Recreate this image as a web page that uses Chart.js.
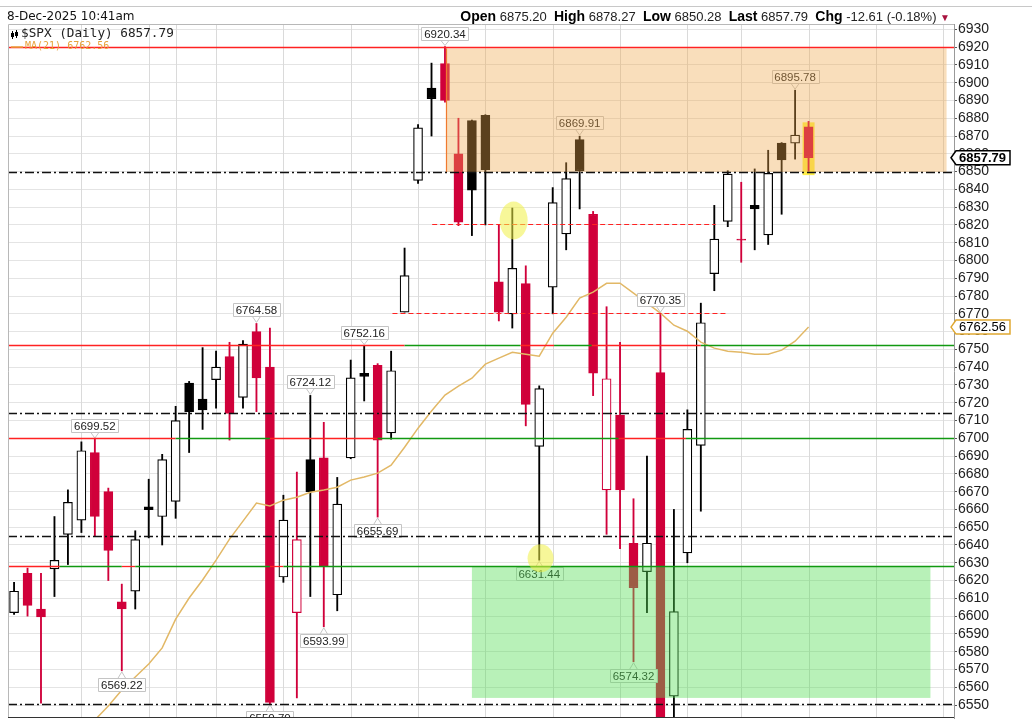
<!DOCTYPE html>
<html>
<head>
<meta charset="utf-8">
<script src="https://cdn.jsdelivr.net/npm/chart.js@4.4.1/dist/chart.umd.min.js"></script>
<style>
html, body { margin: 0; padding: 0; background: #fff; }
#wrap { position: relative; width: 1032px; height: 720px; overflow: hidden; }
#c { position: absolute; left: 0; top: 0; }
.rule { position: absolute; left: 0; top: 6px; width: 1032px; height: 1px; background: #c8c8c8; }
.date { position: absolute; left: 7px; top: 9px; font: 12px "DejaVu Sans", Verdana, sans-serif; color: #111; white-space: nowrap; }
.quote { position: absolute; right: 82px; top: 8px; font: 13px "Liberation Sans", Arial, sans-serif; color: #222; white-space: nowrap; }
.quote b { font-size: 14px; color: #000; }
.quote .tri { color: #a8123e; font-size: 10px; }
.leg1 { position: absolute; left: 21px; top: 25px; font: 12.7px "DejaVu Sans Mono", "Liberation Mono", monospace; color: #222; white-space: nowrap; }
.leg2 { position: absolute; left: 25px; top: 40px; font: 10px "DejaVu Sans Mono", "Liberation Mono", monospace; color: #e8a33c; white-space: nowrap; }
</style>
</head>
<body>
<div id="wrap">
  <canvas id="c" width="1032" height="720"></canvas>
  <div class="rule"></div>
  <div class="date">8-Dec-2025 10:41am</div>
  <div class="quote"><b>Open</b> 6875.20 &nbsp;<b>High</b> 6878.27 &nbsp;<b>Low</b> 6850.28 &nbsp;<b>Last</b> 6857.79 &nbsp;<b>Chg</b> -12.61 (-0.18%) <span class="tri">&#9660;</span></div>
  <div class="leg1">$SPX (Daily) 6857.79</div>
  <div class="leg2">MA(21) 6762.56</div>
</div>
<script>
// daily candles, 15-Sep-2025 .. 8-Dec-2025
const opens  = [6602, 6624, 6604, 6626.5, 6646, 6654, 6692, 6670, 6608, 6614,
                6661.5, 6656, 6664.5, 6731, 6722, 6733, 6746, 6723, 6760, 6740,
                6622, 6602, 6688, 6689, 6612, 6689, 6736.6, 6741, 6703, 6771,
                6845, 6897, 6910.7, 6860, 6878.7, 6881.7, 6788, 6770, 6787, 6695.5,
                6785, 6815, 6868, 6826, 6671, 6713, 6641, 6625, 6737, 6555,
                6635.5, 6696, 6792.6, 6822, 6812, 6831, 6814.4, 6866, 6866, 6875.20];
const highs  = [6619, 6627, 6624, 6656, 6671, 6698, 6699.52, 6672, 6618, 6648,
                6677, 6691, 6718, 6732, 6751, 6749, 6754, 6755, 6764.58, 6762,
                6668, 6681, 6724.12, 6709, 6678, 6744, 6752.16, 6742, 6749, 6807,
                6876.4, 6911, 6920.34, 6880, 6879, 6882, 6820, 6829.5, 6797, 6729.5,
                6841, 6855, 6869.91, 6827.6, 6774, 6754, 6666, 6690, 6770.35, 6660,
                6716, 6776, 6831, 6850.5, 6844, 6851.5, 6862, 6866.3, 6895.78, 6878.27];
const lows   = [6601, 6600, 6551, 6611, 6629, 6647, 6645, 6620, 6569.22, 6604,
                6644, 6640, 6655, 6692, 6705, 6717, 6699, 6717, 6715, 6550.70,
                6619, 6554, 6611, 6593.99, 6603, 6688.5, 6721, 6655.69, 6699.5, 6771,
                6843.4, 6870, 6889, 6819.6, 6814, 6820, 6766, 6762, 6707, 6631.44,
                6770, 6806, 6829, 6724, 6646, 6638, 6574.32, 6602, 6530, 6540,
                6630, 6659, 6783, 6819, 6799, 6806, 6809, 6826, 6857, 6850.28];
const closes = [6614, 6606, 6599.5, 6631.4, 6664, 6693, 6656, 6637, 6604, 6643,
                6659.8, 6688, 6710, 6715, 6716, 6740, 6714, 6753, 6734, 6551.5,
                6654, 6643, 6670, 6628, 6663, 6734, 6734.8, 6699, 6738, 6791.5,
                6874.6, 6891, 6890, 6821.6, 6839.6, 6851, 6771, 6795.6, 6719, 6728,
                6832.5, 6846, 6850.5, 6736.6, 6733.5, 6671, 6616, 6641, 6538, 6602.5,
                6705, 6765, 6812, 6848.6, 6811.4, 6829, 6849, 6856.5, 6870.5, 6857.79];
// up = hollow black, dn = filled red, bf = filled black, rh = hollow red
const kinds  = ['up','dn','dn','up','up','up','dn','dn','dn','up',
                'bf','up','up','bf','bf','up','dn','up','dn','dn',
                'up','rh','bf','dn','up','up','bf','dn','up','up',
                'up','bf','dn','dn','bf','bf','dn','up','dn','up',
                'up','up','bf','dn','rh','dn','dn','up','dn','up',
                'up','up','up','up','dn','bf','up','bf','up','dn'];
const ma21   = [null, null, null, null, null, null, 6541.6, 6549.4, 6558.4, 6565.8,
                6573.1, 6582.1, 6598.3, 6610.2, 6620.3, 6631.5, 6643.3, 6653.4, 6663.6, 6661.9,
                6665.2, 6666.9, 6669.7, 6670.9, 6672.5, 6676.5, 6678.2, 6680.4, 6684.9, 6695.0,
                6705.7, 6715.3, 6724.3, 6729.3, 6733.8, 6741.7, 6745.1, 6748.4, 6747.3, 6746.2,
                6759.1, 6768.1, 6778.8, 6782.2, 6787.2, 6787.2, 6781.6, 6776.0, 6770.4, 6763.6,
                6760.2, 6754.1, 6750.7, 6749.0, 6748.4, 6747.3, 6747.3, 6749.6, 6754.6, 6762.56];
const yTickVals = [6550, 6560, 6570, 6580, 6590, 6600, 6610, 6620, 6630, 6640,
                   6650, 6660, 6670, 6680, 6690, 6700, 6710, 6720, 6730, 6740,
                   6750, 6760, 6770, 6780, 6790, 6800, 6810, 6820, 6830, 6840,
                   6850, 6860, 6870, 6880, 6890, 6900, 6910, 6920, 6930];
// weekly / monthly separators (candle index)
const gridIdx = [5, 10, 12, 15, 20, 25, 30, 35, 40, 45, 50, 54, 59, 64, 69];
// labelled highs and lows: [candle, 'hi' | 'lo']
const callouts = [[32,'hi'], [6,'hi'], [8,'lo'], [18,'hi'], [22,'hi'], [26,'hi'], [27,'lo'],
                  [23,'lo'], [19,'lo'], [42,'hi'], [39,'lo'], [48,'hi'], [46,'lo'], [58,'hi']];

const RED = '#d0003a', LRED = '#ff2222', GRN = '#119911';
const X0 = -0.45, X1 = 69.8;
const fillOf = {up: '#ffffff', dn: RED, bf: '#000000', rh: '#ffffff'};
const edgeOf = {up: '#000000', dn: RED, bf: '#000000', rh: RED};

const levels = [
  {v: 6920, from: X0, to: X1, color: LRED, dash: [], w: 1.3},
  {v: 6849.8, from: X0, to: X1, color: '#111', dash: [9, 3, 2, 3], w: 1.3},
  {v: 6820.5, from: 31.05, to: 52.1, color: LRED, dash: [5, 3], w: 1.2},
  {v: 6770.35, from: 28.1, to: 53, color: LRED, dash: [5, 3], w: 1.2},
  {v: 6714.2, from: X0, to: X1, color: '#111', dash: [9, 3, 2, 3], w: 1.3},
  {v: 6645.2, from: X0, to: X1, color: '#111', dash: [9, 3, 2, 3], w: 1.3},
  {v: 6550.4, from: X0, to: X1, color: '#111', dash: [9, 3, 2, 3], w: 1.3}
];
const polarLines = [
  {v: 6752.6, segs: [[X0, 29, LRED], [29, 37.6, GRN], [37.6, 40.1, LRED], [40.1, 42.9, GRN], [42.9, 51, LRED], [51, X1, GRN]]},
  {v: 6700, segs: [[X0, 12, LRED], [12, 19, GRN], [19, 27, LRED], [27, 44.9, GRN], [44.9, 49.9, LRED], [49.9, X1, GRN]]},
  {v: 6628, segs: [[X0, 3.4, LRED], [3.4, 8, GRN], [8, 9, LRED], [9, 19, GRN], [19, 20, LRED], [20, X1, GRN]]}
];

function callout(ctx, x, y, text, above) {
  ctx.font = '11.5px "Liberation Sans", Arial, sans-serif';
  const w = Math.round(ctx.measureText(text).width + 5), h = 13, gap = 7;
  const bx = Math.round(x - w / 2) + 0.5;
  const by = above ? Math.round(y - gap - h) + 0.5 : Math.round(y + gap) + 0.5;
  ctx.fillStyle = 'rgba(255,255,255,0.95)';
  ctx.strokeStyle = '#c4c4c4';
  ctx.lineWidth = 1;
  ctx.setLineDash([]);
  ctx.beginPath(); ctx.rect(bx, by, w, h); ctx.fill(); ctx.stroke();
  ctx.beginPath();
  if (above) { ctx.moveTo(x - 4, by + h); ctx.lineTo(x, y - 1); ctx.lineTo(x + 4, by + h); }
  else { ctx.moveTo(x - 4, by); ctx.lineTo(x, y + 1); ctx.lineTo(x + 4, by); }
  ctx.stroke();
  ctx.fillStyle = '#222';
  ctx.textAlign = 'center'; ctx.textBaseline = 'middle';
  ctx.fillText(text, x, by + h / 2 + 0.5);
}

function marker(ctx, x0, y, text, border, bold) {
  ctx.font = (bold ? 'bold ' : '') + '13px "Liberation Sans", Arial, sans-serif';
  const w = ctx.measureText(text).width + 6, h = 14;
  ctx.setLineDash([]);
  ctx.beginPath();
  ctx.moveTo(x0, y); ctx.lineTo(x0 + 5, y - h / 2); ctx.lineTo(x0 + 6 + w, y - h / 2);
  ctx.lineTo(x0 + 6 + w, y + h / 2); ctx.lineTo(x0 + 5, y + h / 2); ctx.closePath();
  ctx.fillStyle = '#fff'; ctx.fill();
  ctx.strokeStyle = border; ctx.lineWidth = 1.5; ctx.stroke();
  ctx.fillStyle = '#000'; ctx.textAlign = 'left'; ctx.textBaseline = 'middle';
  ctx.fillText(text, x0 + 8, y + 0.5);
}

const overlays = {
  id: 'overlays',
  beforeDatasetsDraw(chart) {
    const {ctx, chartArea: a, scales: {x, y}} = chart;
    ctx.save();
    // week / month separators at the candle positions
    ctx.strokeStyle = '#dadada'; ctx.lineWidth = 1;
    gridIdx.forEach(i => {
      const px = Math.round(x.getPixelForValue(i)) + 0.5;
      ctx.beginPath(); ctx.moveTo(px, a.top); ctx.lineTo(px, a.bottom); ctx.stroke();
    });
    // highlight behind the last candle
    const xl = x.getPixelForValue(59);
    ctx.fillStyle = '#fff04a';
    ctx.fillRect(xl - 6, y.getPixelForValue(6877.7), 12, y.getPixelForValue(6848) - y.getPixelForValue(6877.7));
    ctx.restore();
  },
  afterDatasetsDraw(chart) {
    const {ctx, chartArea: a, scales: {x, y}} = chart;
    ctx.save();
    ctx.beginPath(); ctx.rect(a.left, a.top, a.right - a.left, a.bottom - a.top); ctx.clip();
    // high / low callouts
    callouts.forEach(([i, s]) => {
      const v = s === 'hi' ? highs[i] : lows[i];
      callout(ctx, x.getPixelForValue(i), y.getPixelForValue(v), v.toFixed(2), s === 'hi');
    });
    // resistance zone
    const zx0 = x.getPixelForValue(32.07), zx1 = x.getPixelForValue(69.25);
    const zt = y.getPixelForValue(6919.3), zb = y.getPixelForValue(6849.8);
    ctx.fillStyle = 'rgba(240,168,75,0.38)';
    ctx.fillRect(zx0, zt, zx1 - zx0, zb - zt);
    ctx.strokeStyle = '#f07a30'; ctx.lineWidth = 1.2;
    ctx.beginPath(); ctx.moveTo(Math.round(zx0) + 0.5, zt); ctx.lineTo(Math.round(zx0) + 0.5, zb); ctx.stroke();
    // support zone
    const gx0 = x.getPixelForValue(34.0), gx1 = x.getPixelForValue(68.05);
    const gt = y.getPixelForValue(6628), gb = y.getPixelForValue(6554);
    ctx.fillStyle = 'rgba(85,222,85,0.42)';
    ctx.fillRect(gx0, gt, gx1 - gx0, gb - gt);
    // horizontal levels
    levels.forEach(l => {
      const py = Math.round(y.getPixelForValue(l.v)) + 0.5;
      ctx.strokeStyle = l.color; ctx.lineWidth = l.w; ctx.setLineDash(l.dash);
      ctx.beginPath(); ctx.moveTo(x.getPixelForValue(l.from), py); ctx.lineTo(x.getPixelForValue(l.to), py); ctx.stroke();
    });
    ctx.setLineDash([]);
    polarLines.forEach(l => {
      const py = Math.round(y.getPixelForValue(l.v)) + 0.5;
      l.segs.forEach(([f, t, c]) => {
        ctx.strokeStyle = c; ctx.lineWidth = 1.3;
        ctx.beginPath(); ctx.moveTo(x.getPixelForValue(f), py); ctx.lineTo(x.getPixelForValue(t), py); ctx.stroke();
      });
    });
    // highlighter marks
    ctx.fillStyle = 'rgba(240,240,70,0.55)';
    ctx.beginPath(); ctx.ellipse(x.getPixelForValue(37.1), y.getPixelForValue(6822.5), 14, 19, 0, 0, Math.PI * 2); ctx.fill();
    ctx.beginPath(); ctx.ellipse(x.getPixelForValue(39.1), y.getPixelForValue(6632.5), 13, 14, 0, 0, Math.PI * 2); ctx.fill();
    ctx.restore();
    // plot frame
    ctx.save();
    ctx.strokeStyle = '#b8b8b8'; ctx.lineWidth = 1;
    ctx.beginPath();
    ctx.moveTo(a.left + 0.5, a.bottom); ctx.lineTo(a.left + 0.5, a.top + 0.5); ctx.lineTo(a.right, a.top + 0.5);
    ctx.stroke();
    ctx.strokeStyle = '#333';
    ctx.beginPath(); ctx.moveTo(a.left, a.bottom - 0.5); ctx.lineTo(a.right, a.bottom - 0.5); ctx.stroke();
    ctx.restore();
  },
  afterDraw(chart) {
    const {ctx, chartArea: a, scales: {y}} = chart;
    ctx.save();
    marker(ctx, a.right - 3, y.getPixelForValue(closes[59]), closes[59].toFixed(2), '#000', true);
    marker(ctx, a.right - 3, y.getPixelForValue(ma21[59]), ma21[59].toFixed(2), '#e0a830', false);
    // legend glyphs
    ctx.fillStyle = '#000'; ctx.fillRect(12, 31, 1, 8); ctx.fillRect(11, 33, 3, 4);
    ctx.fillRect(16, 30, 1, 8); ctx.strokeStyle = '#000'; ctx.lineWidth = 1; ctx.strokeRect(15.5, 32.5, 2, 3);
    ctx.strokeStyle = '#e8a33c'; ctx.lineWidth = 1.5;
    ctx.beginPath(); ctx.moveTo(11, 47); ctx.lineTo(23, 47); ctx.stroke();
    ctx.restore();
  }
};

const idx = opens.map((_, i) => i);
new Chart(document.getElementById('c').getContext('2d'), {
  type: 'bar',
  data: {
    datasets: [
      {
        type: 'line', label: 'MA(21)',
        data: ma21.map((v, i) => ({x: i, y: v})),
        borderColor: '#e2b866', borderWidth: 1.5, pointRadius: 0, tension: 0, order: 0
      },
      {
        label: 'body',
        data: idx.map(i => ({x: i, y: [opens[i], closes[i]]})),
        backgroundColor: kinds.map(k => fillOf[k]),
        borderColor: kinds.map(k => edgeOf[k]),
        borderWidth: 1.2, borderSkipped: false,
        barThickness: 9, grouped: false, order: 1
      },
      {
        label: 'wick',
        data: idx.map(i => ({x: i, y: [lows[i], highs[i]]})),
        backgroundColor: kinds.map(k => (k === 'dn' || k === 'rh') ? RED : '#000'),
        barThickness: 1.2, grouped: false, order: 2
      }
    ]
  },
  options: {
    animation: false,
    responsive: false,
    layout: {padding: {left: 8, top: 24, right: 0, bottom: 2}},
    plugins: {legend: {display: false}, tooltip: {enabled: false}},
    scales: {
      x: {
        type: 'linear', min: X0, max: X1, offset: false,
        ticks: {display: false},
        grid: {display: false},
        border: {display: false},
        afterFit: s => { s.height = 0; s.paddingLeft = 0; s.paddingRight = 0; }
      },
      y: {
        position: 'right', min: 6542.7, max: 6933,
        afterBuildTicks: s => { s.ticks = yTickVals.map(v => ({value: v})); },
        ticks: {
          color: '#222', padding: 1, autoSkip: false,
          font: {family: '"Liberation Sans", Arial, sans-serif', size: 14},
          callback: v => String(v)
        },
        grid: {color: '#e4e4e4', tickLength: 3, tickColor: '#555'},
        border: {color: '#999'},
        afterFit: s => { s.width = 78; s.paddingTop = 0; s.paddingBottom = 0; }
      }
    }
  },
  plugins: [overlays]
});
</script>
</body>
</html>
